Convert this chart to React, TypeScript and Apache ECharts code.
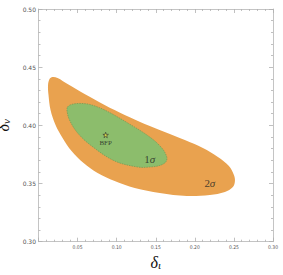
import React, { useEffect, useRef } from "react";
import * as echarts from "echarts";

// 2σ contour (δι, δν)
const SIGMA2_X = [0.0128, 0.0154, 0.0218, 0.0308, 0.0423, 0.0577, 0.0756, 0.0974, 0.1231, 0.1551, 0.1897, 0.2192, 0.2385, 0.2487, 0.2513, 0.25, 0.2436, 0.2295, 0.2103, 0.1872, 0.1615, 0.1359, 0.1103, 0.0846, 0.059, 0.0372, 0.0244, 0.0179, 0.0141, 0.0122];
const SIGMA2_Y = [0.4261, 0.4132, 0.4003, 0.3892, 0.378, 0.3677, 0.3591, 0.3522, 0.3462, 0.3419, 0.3393, 0.3402, 0.3427, 0.347, 0.3522, 0.3574, 0.3651, 0.3728, 0.3806, 0.3874, 0.3943, 0.4012, 0.4089, 0.4175, 0.427, 0.4356, 0.4408, 0.4416, 0.4399, 0.4347];

// 1σ contour
const SIGMA1_X = [0.0372, 0.0423, 0.0526, 0.0654, 0.0846, 0.1141, 0.1423, 0.1577, 0.1641, 0.1628, 0.1551, 0.1423, 0.1269, 0.0974, 0.0679, 0.05, 0.0397, 0.0365];
const SIGMA1_Y = [0.4158, 0.418, 0.4188, 0.418, 0.4132, 0.4021, 0.39, 0.3806, 0.3728, 0.3685, 0.3655, 0.3642, 0.3642, 0.3694, 0.3823, 0.3935, 0.4046, 0.4124];

const BFP_POINT = [0.0859, 0.3917];
const REGION_LABELS = ["1", "2"];
const REGION_LABEL_X = [0.1423, 0.2192];
const REGION_LABEL_Y = [0.3711, 0.3505];

const X_MIN = 0;
const X_MAX = 0.3;
const Y_MIN = 0.3;
const Y_MAX = 0.5;
const TICK_STEP = 0.05;

const STAR =
  "path://M50,0 L61,35 L98,35 L68,57 L79,91 L50,70 L21,91 L32,57 L2,35 L39,35 Z";

export default function App() {
  const ref = useRef<HTMLDivElement>(null);

  useEffect(() => {
    if (!ref.current) return;
    const chart = echarts.init(ref.current, null, { renderer: "svg" });

    const sigma2 = SIGMA2_X.map((x, i) => [x, SIGMA2_Y[i]]);
    const sigma1 = SIGMA1_X.map((x, i) => [x, SIGMA1_Y[i]]);

    const frameColor = "#c4c4c4";
    const tickStyle = { lineStyle: { color: "#b0b0b0", width: 0.8 } };

    const polygonSeries = (pts: number[][], fill: string, stroke?: string) => ({
      type: "custom",
      coordinateSystem: "cartesian2d",
      xAxisIndex: 0,
      yAxisIndex: 0,
      clip: true,
      silent: true,
      encode: { x: 0, y: 1 },
      data: pts,
      renderItem: (params: any, api: any) => {
        if (params.dataIndex !== 0) return null;
        const points = pts.map((p) => api.coord(p));
        return {
          type: "polygon",
          shape: { points, smooth: 0.35 },
          style: stroke
            ? { fill, stroke, lineWidth: 0.7, lineDash: [1.5, 1] }
            : { fill },
        };
      },
    });

    const labelData = REGION_LABELS.map((n, i) => ({
      value: [REGION_LABEL_X[i], REGION_LABEL_Y[i]],
      name: n,
    }));

    const nameRich = {
      d: { fontFamily: "Liberation Serif", fontStyle: "italic", fontSize: 16, lineHeight: 16, color: "#111" },
      s: { fontFamily: "Liberation Serif", fontStyle: "italic", fontSize: 11, lineHeight: 11, color: "#111", padding: [5, 0, 0, 0] },
    };

    chart.setOption({
      animation: false,
      grid: {
        left: 38.5,
        right: 10,
        top: 9,
        bottom: 33.3,
        containLabel: false,
        outerBoundsMode: "none",
      },
      xAxis: [
        {
          type: "value",
          min: X_MIN,
          max: X_MAX,
          interval: TICK_STEP,
          position: "bottom",
          axisLine: { show: true, onZero: false, lineStyle: { color: frameColor, width: 1 } },
          axisTick: { show: true, inside: true, length: 4, ...tickStyle },
          minorTick: { show: true, splitNumber: 5, length: 2, ...tickStyle },
          splitLine: { show: false },
          axisLabel: {
            showMinLabel: false,
            margin: 3,
            fontSize: 5,
            fontFamily: "DejaVu Sans Condensed",
            color: "#555",
            formatter: (v: number) => v.toFixed(2),
          },
          name: "{d|δ}{s|ι}",
          nameLocation: "middle",
          nameGap: 9,
          nameTextStyle: { rich: nameRich },
        },
        {
          type: "value",
          min: X_MIN,
          max: X_MAX,
          interval: TICK_STEP,
          position: "top",
          axisLine: { show: true, onZero: false, lineStyle: { color: frameColor, width: 1 } },
          axisTick: { show: true, inside: true, length: 4, ...tickStyle },
          minorTick: { show: true, splitNumber: 5, length: 2, ...tickStyle },
          splitLine: { show: false },
          axisLabel: { show: false },
        },
      ],
      yAxis: [
        {
          type: "value",
          min: Y_MIN,
          max: Y_MAX,
          interval: TICK_STEP,
          position: "left",
          axisLine: { show: true, onZero: false, lineStyle: { color: frameColor, width: 1 } },
          axisTick: { show: true, inside: true, length: 4, ...tickStyle },
          minorTick: { show: true, splitNumber: 5, length: 2, ...tickStyle },
          splitLine: { show: false },
          axisLabel: {
            margin: 2.5,
            fontSize: 6,
            fontFamily: "DejaVu Sans",
            color: "#555",
            formatter: (v: number) => v.toFixed(2),
          },
          name: "{d|δ}{s|ν}",
          nameLocation: "middle",
          nameRotate: 90,
          nameGap: 19,
          nameTextStyle: { rich: nameRich },
        },
        {
          type: "value",
          min: Y_MIN,
          max: Y_MAX,
          interval: TICK_STEP,
          position: "right",
          axisLine: { show: true, onZero: false, lineStyle: { color: frameColor, width: 1 } },
          axisTick: { show: true, inside: true, length: 4, ...tickStyle },
          minorTick: { show: true, splitNumber: 5, length: 2, ...tickStyle },
          splitLine: { show: false },
          axisLabel: { show: false },
        },
      ],
      series: [
        polygonSeries(sigma2, "#E9A24F"),
        polygonSeries(sigma1, "#8CBD6C", "#6f9a55"),
        {
          type: "scatter",
          xAxisIndex: 0,
          yAxisIndex: 0,
          symbol: STAR,
          symbolSize: 5.5,
          silent: true,
          itemStyle: { color: "#f3e23c", borderColor: "#333", borderWidth: 0.8 },
          label: {
            show: true,
            position: "bottom",
            distance: 1,
            formatter: "BFP",
            fontFamily: "Liberation Serif",
            fontSize: 7,
            color: "#222",
          },
          data: [BFP_POINT],
        },
        {
          type: "scatter",
          xAxisIndex: 0,
          yAxisIndex: 0,
          symbolSize: 1,
          silent: true,
          itemStyle: { color: "rgba(0,0,0,0)" },
          label: {
            show: true,
            position: "inside",
            formatter: (p: any) => `{n|${p.name}}{s|σ}`,
            rich: {
              n: { fontFamily: "Liberation Serif", fontSize: 11, color: "#222" },
              s: { fontFamily: "Liberation Serif", fontStyle: "italic", fontSize: 11, color: "#222" },
            },
          },
          data: labelData,
        },
      ],
    });

    return () => chart.dispose();
  }, []);

  return (
    <div
      ref={ref}
      style={{ position: "fixed", left: 0, top: 0, width: 283, height: 275, background: "#fff" }}
    />
  );
}
